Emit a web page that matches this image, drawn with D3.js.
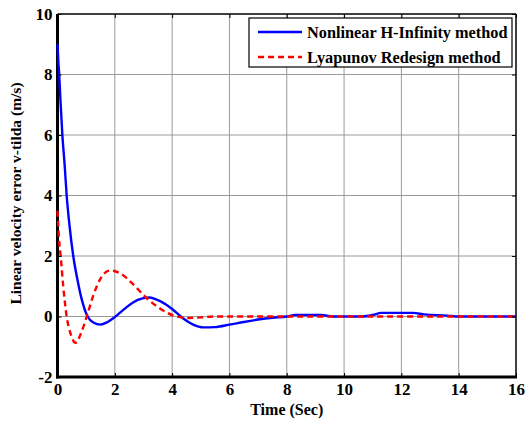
<!DOCTYPE html>
<html>
<head>
<meta charset="utf-8">
<script src="https://cdn.jsdelivr.net/npm/d3@7"></script>
<style>
  body { margin: 0; background: #fff; }
  svg text { font-family: "Liberation Serif", "Times New Roman", serif; font-weight: bold; }
</style>
</head>
<body>
<svg id="chart" width="528" height="421"></svg>
<script>
// Series: [time, error]
const hinfTime = [0, 0.03, 0.06, 0.1, 0.17, 0.25, 0.32, 0.42, 0.55, 0.7, 0.85, 1.05, 1.25, 1.5, 1.75, 2.0, 2.4, 2.8, 3.2, 3.6, 4.0, 4.3, 4.7, 5.1, 5.5, 6.0, 6.5, 7.0, 7.5, 8.0, 8.3, 9.2, 9.6, 10.6, 11.0, 11.3, 12.4, 12.8, 13.6, 14.0, 16];
const hinfValue = [9.0, 8.4, 8.0, 7.2, 6.0, 5.0, 4.0, 3.0, 2.0, 1.2, 0.55, 0.0, -0.2, -0.27, -0.18, -0.02, 0.3, 0.55, 0.63, 0.5, 0.25, 0.0, -0.25, -0.36, -0.35, -0.27, -0.18, -0.1, -0.04, 0.0, 0.05, 0.05, 0.0, 0.0, 0.05, 0.12, 0.12, 0.07, 0.03, 0.0, 0.0];

const lyapTime = [0, 0.05, 0.11, 0.2, 0.32, 0.45, 0.63, 0.8, 1.02, 1.25, 1.5, 1.83, 2.2, 2.6, 3.1, 3.6, 4.16, 4.6, 5.0, 5.5, 16];
const lyapValue = [3.5, 2.6, 2.0, 1.0, 0.0, -0.55, -0.87, -0.6, 0.0, 0.7, 1.25, 1.52, 1.42, 1.1, 0.62, 0.25, 0.0, -0.05, -0.03, 0.0, 0.0];

const xTicks = [0, 2, 4, 6, 8, 10, 12, 14, 16];
const yTicks = [-2, 0, 2, 4, 6, 8, 10];
const legendLabels = ["Nonlinear H-Infinity method", "Lyapunov Redesign method"];
const seriesColours = ["#0000ff", "#ff0000"];

const margin = { top: 14, right: 12, bottom: 44, left: 57.5 };
const width = 528 - margin.left - margin.right;
const height = 421 - margin.top - margin.bottom;

const svg = d3.select("#chart")
    .append("g")
    .attr("transform", `translate(${margin.left}, ${margin.top})`);

const xScale = d3.scaleLinear().domain([0, 16]).range([0, width]);
const yScale = d3.scaleLinear().domain([-2, 10]).range([height, 0]);

// Grid
svg.selectAll(".xGrid")
    .data(xTicks.slice(1, -1))
    .join("line")
    .attr("x1", d => xScale(d))
    .attr("x2", d => xScale(d))
    .attr("y1", 0)
    .attr("y2", height)
    .attr("stroke", "#9a9a9a")
    .attr("stroke-width", 1);

svg.selectAll(".yGrid")
    .data(yTicks.slice(1, -1))
    .join("line")
    .attr("x1", 0)
    .attr("x2", width)
    .attr("y1", d => yScale(d))
    .attr("y2", d => yScale(d))
    .attr("stroke", "#9a9a9a")
    .attr("stroke-width", 1);

// Box (drawn under the curves, as in the reference)
svg.append("line").attr("x1", 0).attr("x2", width).attr("y1", 0).attr("y2", 0).attr("stroke", "#000").attr("stroke-width", 1.5);
svg.append("line").attr("x1", width).attr("x2", width).attr("y1", 0).attr("y2", height).attr("stroke", "#000").attr("stroke-width", 1.5);
svg.append("line").attr("x1", 0).attr("x2", 0).attr("y1", 0).attr("y2", height + 1.5).attr("stroke", "#000").attr("stroke-width", 3);
svg.append("line").attr("x1", -1.5).attr("x2", width + 1).attr("y1", height).attr("y2", height).attr("stroke", "#000").attr("stroke-width", 3);

// Lines
const lineGenerator = d3.line()
    .x(d => xScale(d[0]))
    .y(d => yScale(d[1]))
    .curve(d3.curveMonotoneX);

const hinfData = hinfTime.map((t, i) => [t, hinfValue[i]]);
const lyapData = lyapTime.map((t, i) => [t, lyapValue[i]]);

svg.append("path")
    .datum(hinfData)
    .attr("d", lineGenerator)
    .attr("fill", "none")
    .attr("stroke", seriesColours[0])
    .attr("stroke-width", 2.4);

svg.append("path")
    .datum(lyapData)
    .attr("d", lineGenerator)
    .attr("fill", "none")
    .attr("stroke", seriesColours[1])
    .attr("stroke-width", 2.4)
    .attr("stroke-dasharray", "6,4");

// Axes (ticks point inward, MATLAB style); plain hyphen for negatives
const tickText = d => String(d);
const xAxis = d3.axisBottom(xScale).tickValues(xTicks).tickSize(-4).tickPadding(6).tickFormat(tickText);
const yAxis = d3.axisLeft(yScale).tickValues(yTicks).tickSize(-4).tickPadding(5).tickFormat(tickText);

svg.append("g")
    .attr("transform", `translate(0, ${height})`)
    .style("font-size", "17px")
    .call(xAxis)
    .call(g => g.select(".domain").remove());

svg.append("g")
    .style("font-size", "17px")
    .call(yAxis)
    .call(g => g.select(".domain").remove());

// Top and right tick marks
svg.append("g")
    .call(d3.axisTop(xScale).tickValues(xTicks).tickSize(-4).tickFormat(""))
    .call(g => g.select(".domain").remove());
svg.append("g")
    .attr("transform", `translate(${width}, 0)`)
    .call(d3.axisRight(yScale).tickValues(yTicks).tickSize(-4).tickFormat(""))
    .call(g => g.select(".domain").remove());

svg.selectAll(".tick text").attr("fill", "#000");

// Axis labels
svg.append("text")
    .attr("x", width / 2)
    .attr("y", height + 38)
    .attr("text-anchor", "middle")
    .style("font-size", "16px")
    .text("Time (Sec)");

svg.append("text")
    .attr("transform", `translate(${-37}, ${height / 2 - 2}) rotate(-90)`)
    .attr("text-anchor", "middle")
    .style("font-size", "15.5px")
    .text("Linear velocity error v-tilda (m/s)");

// Legend
const legend = svg.append("g")
    .attr("transform", `translate(${249 - margin.left}, ${18 - margin.top})`);

legend.append("rect")
    .attr("width", 263)
    .attr("height", 49)
    .attr("fill", "#fff")
    .attr("stroke", "#000")
    .attr("stroke-width", 1.2);

legendLabels.forEach((label, i) => {
    const y = 14 + i * 25;
    legend.append("line")
        .attr("x1", 9)
        .attr("x2", 53)
        .attr("y1", y)
        .attr("y2", y)
        .attr("stroke", seriesColours[i])
        .attr("stroke-width", 2.4)
        .attr("stroke-dasharray", i === 1 ? "6,4" : null);
    legend.append("text")
        .attr("x", 58)
        .attr("y", y + 6)
        .style("font-size", "16.3px")
        .text(label);
});
</script>
</body>
</html>
